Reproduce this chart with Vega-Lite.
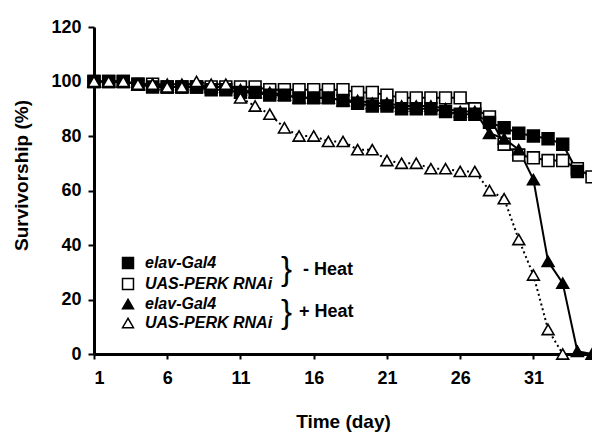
{
  "$schema": "https://vega.github.io/schema/vega-lite/v6.json",
  "width": 498,
  "height": 327,
  "autosize": {"type": "none"},
  "padding": {"left": 94, "top": 27, "right": 0, "bottom": 78},
  "background": "white",
  "config": {
    "view": {"stroke": null},
    "font": "Liberation Sans",
    "axis": {
      "domainColor": "black", "domainWidth": 3, "tickColor": "black", "tickWidth": 2,
      "labelColor": "black", "titleColor": "black", "labelFont": "Liberation Sans", "titleFont": "Liberation Sans",
      "labelFontWeight": "bold", "titleFontWeight": "bold", "grid": false
    },
    "legend": {
      "title": null, "orient": "none", "legendX": 26, "legendY": 228,
      "labelFont": "Liberation Sans", "labelFontSize": 16, "labelFontStyle": "italic", "labelFontWeight": "bold", "labelColor": "black",
      "symbolSize": 120, "symbolStrokeWidth": 1.5, "rowPadding": 3, "labelOffset": 9
    }
  },
  "data": {"values": [
    {"day":1,"group":"UAS-PERK RNAi |-","pct":100},{"day":2,"group":"UAS-PERK RNAi |-","pct":100},{"day":3,"group":"UAS-PERK RNAi |-","pct":100},{"day":4,"group":"UAS-PERK RNAi |-","pct":99},{"day":5,"group":"UAS-PERK RNAi |-","pct":99},{"day":6,"group":"UAS-PERK RNAi |-","pct":98},{"day":7,"group":"UAS-PERK RNAi |-","pct":98},{"day":8,"group":"UAS-PERK RNAi |-","pct":98},{"day":9,"group":"UAS-PERK RNAi |-","pct":98},{"day":10,"group":"UAS-PERK RNAi |-","pct":98},{"day":11,"group":"UAS-PERK RNAi |-","pct":98},{"day":12,"group":"UAS-PERK RNAi |-","pct":98},{"day":13,"group":"UAS-PERK RNAi |-","pct":97},{"day":14,"group":"UAS-PERK RNAi |-","pct":97},{"day":15,"group":"UAS-PERK RNAi |-","pct":97},{"day":16,"group":"UAS-PERK RNAi |-","pct":97},{"day":17,"group":"UAS-PERK RNAi |-","pct":97},{"day":18,"group":"UAS-PERK RNAi |-","pct":97},{"day":19,"group":"UAS-PERK RNAi |-","pct":96},{"day":20,"group":"UAS-PERK RNAi |-","pct":96},{"day":21,"group":"UAS-PERK RNAi |-","pct":95},{"day":22,"group":"UAS-PERK RNAi |-","pct":94},{"day":23,"group":"UAS-PERK RNAi |-","pct":94},{"day":24,"group":"UAS-PERK RNAi |-","pct":94},{"day":25,"group":"UAS-PERK RNAi |-","pct":94},{"day":26,"group":"UAS-PERK RNAi |-","pct":94},{"day":27,"group":"UAS-PERK RNAi |-","pct":90},{"day":28,"group":"UAS-PERK RNAi |-","pct":87},{"day":29,"group":"UAS-PERK RNAi |-","pct":77},{"day":30,"group":"UAS-PERK RNAi |-","pct":73},{"day":31,"group":"UAS-PERK RNAi |-","pct":72},{"day":32,"group":"UAS-PERK RNAi |-","pct":71},{"day":33,"group":"UAS-PERK RNAi |-","pct":71},{"day":34,"group":"UAS-PERK RNAi |-","pct":68},{"day":35,"group":"UAS-PERK RNAi |-","pct":65},
    {"day":1,"group":"elav-Gal4 |-","pct":100},{"day":2,"group":"elav-Gal4 |-","pct":100},{"day":3,"group":"elav-Gal4 |-","pct":100},{"day":4,"group":"elav-Gal4 |-","pct":99},{"day":5,"group":"elav-Gal4 |-","pct":98},{"day":6,"group":"elav-Gal4 |-","pct":98},{"day":7,"group":"elav-Gal4 |-","pct":98},{"day":8,"group":"elav-Gal4 |-","pct":98},{"day":9,"group":"elav-Gal4 |-","pct":97},{"day":10,"group":"elav-Gal4 |-","pct":97},{"day":11,"group":"elav-Gal4 |-","pct":96},{"day":12,"group":"elav-Gal4 |-","pct":96},{"day":13,"group":"elav-Gal4 |-","pct":95},{"day":14,"group":"elav-Gal4 |-","pct":95},{"day":15,"group":"elav-Gal4 |-","pct":94},{"day":16,"group":"elav-Gal4 |-","pct":94},{"day":17,"group":"elav-Gal4 |-","pct":94},{"day":18,"group":"elav-Gal4 |-","pct":93},{"day":19,"group":"elav-Gal4 |-","pct":92},{"day":20,"group":"elav-Gal4 |-","pct":91},{"day":21,"group":"elav-Gal4 |-","pct":91},{"day":22,"group":"elav-Gal4 |-","pct":90},{"day":23,"group":"elav-Gal4 |-","pct":90},{"day":24,"group":"elav-Gal4 |-","pct":90},{"day":25,"group":"elav-Gal4 |-","pct":89},{"day":26,"group":"elav-Gal4 |-","pct":88},{"day":27,"group":"elav-Gal4 |-","pct":88},{"day":28,"group":"elav-Gal4 |-","pct":85},{"day":29,"group":"elav-Gal4 |-","pct":83},{"day":30,"group":"elav-Gal4 |-","pct":81},{"day":31,"group":"elav-Gal4 |-","pct":80},{"day":32,"group":"elav-Gal4 |-","pct":79},{"day":33,"group":"elav-Gal4 |-","pct":77},{"day":34,"group":"elav-Gal4 |-","pct":67},
    {"day":1,"group":"elav-Gal4 |+","pct":100},{"day":2,"group":"elav-Gal4 |+","pct":100},{"day":3,"group":"elav-Gal4 |+","pct":100},{"day":4,"group":"elav-Gal4 |+","pct":99},{"day":5,"group":"elav-Gal4 |+","pct":99},{"day":6,"group":"elav-Gal4 |+","pct":99},{"day":7,"group":"elav-Gal4 |+","pct":99},{"day":8,"group":"elav-Gal4 |+","pct":99},{"day":9,"group":"elav-Gal4 |+","pct":98},{"day":10,"group":"elav-Gal4 |+","pct":98},{"day":11,"group":"elav-Gal4 |+","pct":97},{"day":12,"group":"elav-Gal4 |+","pct":96},{"day":13,"group":"elav-Gal4 |+","pct":96},{"day":14,"group":"elav-Gal4 |+","pct":95},{"day":15,"group":"elav-Gal4 |+","pct":94},{"day":16,"group":"elav-Gal4 |+","pct":94},{"day":17,"group":"elav-Gal4 |+","pct":94},{"day":18,"group":"elav-Gal4 |+","pct":93},{"day":19,"group":"elav-Gal4 |+","pct":93},{"day":20,"group":"elav-Gal4 |+","pct":92},{"day":21,"group":"elav-Gal4 |+","pct":92},{"day":22,"group":"elav-Gal4 |+","pct":91},{"day":23,"group":"elav-Gal4 |+","pct":91},{"day":24,"group":"elav-Gal4 |+","pct":91},{"day":25,"group":"elav-Gal4 |+","pct":90},{"day":26,"group":"elav-Gal4 |+","pct":89},{"day":27,"group":"elav-Gal4 |+","pct":89},{"day":28,"group":"elav-Gal4 |+","pct":81},{"day":29,"group":"elav-Gal4 |+","pct":79},{"day":30,"group":"elav-Gal4 |+","pct":75},{"day":31,"group":"elav-Gal4 |+","pct":64},{"day":32,"group":"elav-Gal4 |+","pct":34},{"day":33,"group":"elav-Gal4 |+","pct":26},{"day":34,"group":"elav-Gal4 |+","pct":1},{"day":35,"group":"elav-Gal4 |+","pct":0},
    {"day":1,"group":"UAS-PERK RNAi |+","pct":100},{"day":2,"group":"UAS-PERK RNAi |+","pct":100},{"day":3,"group":"UAS-PERK RNAi |+","pct":100},{"day":4,"group":"UAS-PERK RNAi |+","pct":99},{"day":5,"group":"UAS-PERK RNAi |+","pct":99},{"day":6,"group":"UAS-PERK RNAi |+","pct":98},{"day":7,"group":"UAS-PERK RNAi |+","pct":98},{"day":8,"group":"UAS-PERK RNAi |+","pct":100},{"day":9,"group":"UAS-PERK RNAi |+","pct":99},{"day":10,"group":"UAS-PERK RNAi |+","pct":99},{"day":11,"group":"UAS-PERK RNAi |+","pct":94},{"day":12,"group":"UAS-PERK RNAi |+","pct":91},{"day":13,"group":"UAS-PERK RNAi |+","pct":88},{"day":14,"group":"UAS-PERK RNAi |+","pct":83},{"day":15,"group":"UAS-PERK RNAi |+","pct":80},{"day":16,"group":"UAS-PERK RNAi |+","pct":80},{"day":17,"group":"UAS-PERK RNAi |+","pct":78},{"day":18,"group":"UAS-PERK RNAi |+","pct":78},{"day":19,"group":"UAS-PERK RNAi |+","pct":75},{"day":20,"group":"UAS-PERK RNAi |+","pct":75},{"day":21,"group":"UAS-PERK RNAi |+","pct":71},{"day":22,"group":"UAS-PERK RNAi |+","pct":70},{"day":23,"group":"UAS-PERK RNAi |+","pct":70},{"day":24,"group":"UAS-PERK RNAi |+","pct":68},{"day":25,"group":"UAS-PERK RNAi |+","pct":68},{"day":26,"group":"UAS-PERK RNAi |+","pct":67},{"day":27,"group":"UAS-PERK RNAi |+","pct":67},{"day":28,"group":"UAS-PERK RNAi |+","pct":60},{"day":29,"group":"UAS-PERK RNAi |+","pct":57},{"day":30,"group":"UAS-PERK RNAi |+","pct":42},{"day":31,"group":"UAS-PERK RNAi |+","pct":29},{"day":32,"group":"UAS-PERK RNAi |+","pct":9},{"day":33,"group":"UAS-PERK RNAi |+","pct":0}
  ]},
  "encoding": {
    "x": {"field": "day", "type": "quantitative",
      "scale": {"domain": [1, 35], "nice": false, "zero": false},
      "axis": {"title": "Time (day)", "values": [1,6,11,16,21,26,31], "labelFontSize": 18, "titleFontSize": 19,
        "tickSize": 5, "labelPadding": 10, "titlePadding": 25}},
    "y": {"field": "pct", "type": "quantitative",
      "scale": {"domain": [0, 120], "nice": false},
      "axis": {"title": "Survivorship (%)", "values": [0,20,40,60,80,100,120], "labelFontSize": 18, "titleFontSize": 19,
        "tickSize": 6, "labelPadding": 7, "titleX": -73, "titleY": 148, "titleAngle": -90, "titleBaseline": "middle", "titleAlign": "center"}}
  },
  "layer": [
    {
      "transform": [{"filter": "datum.group != 'UAS-PERK RNAi |+'"}],
      "mark": {"type": "line", "color": "black", "strokeWidth": 2},
      "encoding": {"detail": {"field": "group", "type": "nominal"}}
    },
    {
      "transform": [{"filter": "datum.group == 'UAS-PERK RNAi |+'"}],
      "mark": {"type": "line", "color": "black", "strokeWidth": 2, "strokeDash": [2, 3]},
      "encoding": {}
    },
    {
      "mark": {"type": "point", "filled": true, "strokeWidth": 1.6, "size": 140, "opacity": 1},
      "encoding": {
        "shape": {"field": "group", "type": "nominal",
          "scale": {"domain": ["elav-Gal4 |-", "UAS-PERK RNAi |-", "elav-Gal4 |+", "UAS-PERK RNAi |+"], "range": ["square","square","triangle-up","triangle-up"]},
          "legend": {"labelExpr": "split(datum.label, ' |')[0]"}},
        "fill": {"field": "group", "type": "nominal",
          "scale": {"domain": ["elav-Gal4 |-", "UAS-PERK RNAi |-", "elav-Gal4 |+", "UAS-PERK RNAi |+"], "range": ["black","white","black","white"]},
          "legend": {"labelExpr": "split(datum.label, ' |')[0]"}},
        "stroke": {"field": "group", "type": "nominal",
          "scale": {"domain": ["elav-Gal4 |-", "UAS-PERK RNAi |-", "elav-Gal4 |+", "UAS-PERK RNAi |+"], "range": ["black","black","black","black"]},
          "legend": {"labelExpr": "split(datum.label, ' |')[0]"}}
      }
    },
    {
      "transform": [{"filter": "datum.day == 1 && datum.group == 'elav-Gal4 |-'"}],
      "mark": {"type": "text", "text": "}", "font": "Liberation Sans", "fontSize": 33, "fontWeight": "normal", "align": "center", "baseline": "middle", "color": "black"},
      "encoding": {"x": {"datum": 14.14}, "y": {"datum": 30.8}}
    },
    {
      "transform": [{"filter": "datum.day == 1 && datum.group == 'elav-Gal4 |-'"}],
      "mark": {"type": "text", "text": "}", "font": "Liberation Sans", "fontSize": 33, "fontWeight": "normal", "align": "center", "baseline": "middle", "color": "black"},
      "encoding": {"x": {"datum": 14.14}, "y": {"datum": 15.2}}
    },
    {
      "transform": [{"filter": "datum.day == 1 && datum.group == 'elav-Gal4 |-'"}],
      "mark": {"type": "text", "text": "- Heat", "font": "Liberation Sans", "fontSize": 18, "fontWeight": "bold", "align": "left", "baseline": "middle", "color": "black"},
      "encoding": {"x": {"datum": 15.27}, "y": {"datum": 30.8}}
    },
    {
      "transform": [{"filter": "datum.day == 1 && datum.group == 'elav-Gal4 |-'"}],
      "mark": {"type": "text", "text": "+ Heat", "font": "Liberation Sans", "fontSize": 18, "fontWeight": "bold", "align": "left", "baseline": "middle", "color": "black"},
      "encoding": {"x": {"datum": 15.0}, "y": {"datum": 15.4}}
    }
  ]
}
